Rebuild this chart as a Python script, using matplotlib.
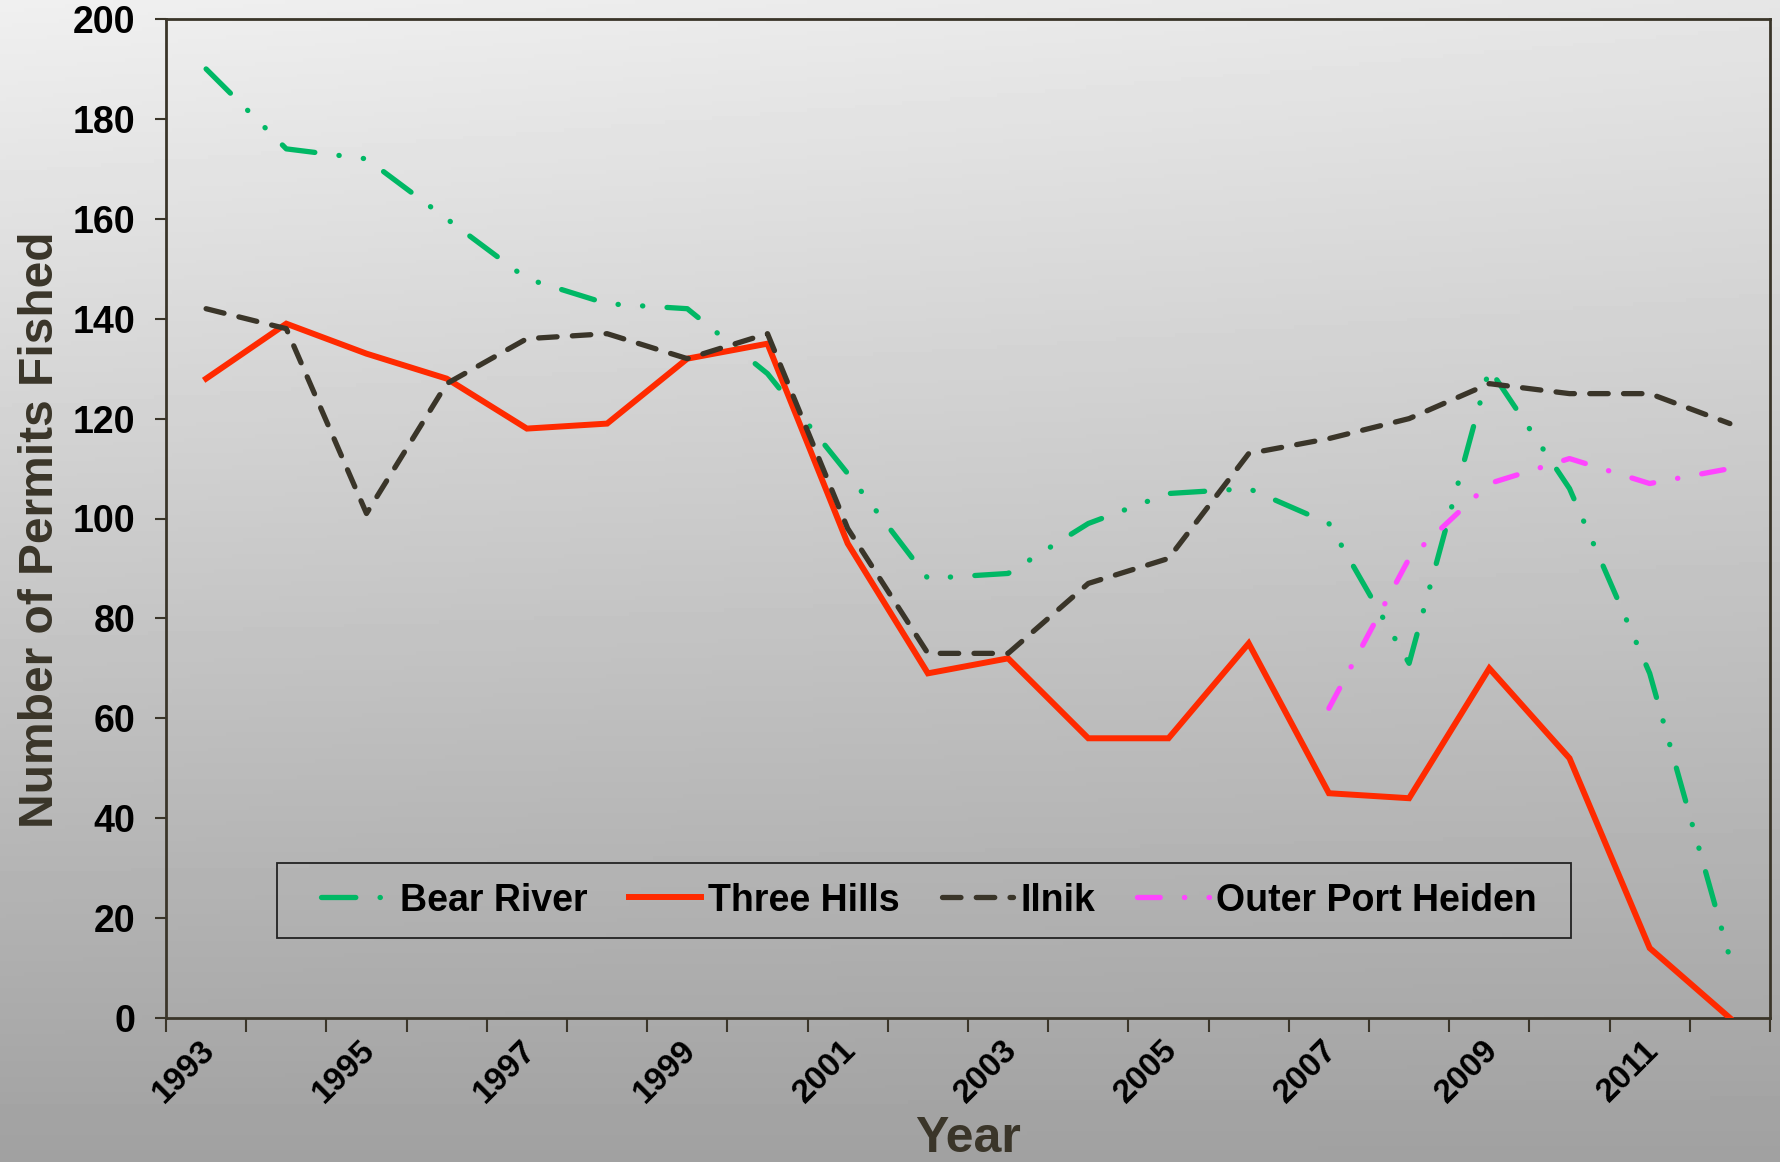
import numpy as np
import matplotlib
matplotlib.use("Agg")
import matplotlib.pyplot as plt
from matplotlib import font_manager
from matplotlib.patches import Rectangle
from matplotlib.transforms import ScaledTranslation

years = list(range(1993, 2013))
bear_river = [190, 174, 172, 160, 148, 143, 142, 129, 109, 88, 89, 99, 105, 106, 99, 71, 130, 106, 69, 12]
three_hills = [128, 139, 133, 128, 118, 119, 132, 135, 95, 69, 72, 56, 56, 75, 45, 44, 70, 52, 14, 0]
ilnik = [142, 138, 101, 127, 136, 137, 132, 137, 98, 73, 73, 87, 92, 113, 116, 120, 127, 125, 125, 119]
outer_port_heiden = [np.nan] * 14 + [62, 92, 107, 112, 107, 110]
series_names = ["Bear River", "Three Hills", "Ilnik", "Outer Port Heiden"]

names = {f.name for f in font_manager.fontManager.ttflist}
base = "Liberation Sans" if "Liberation Sans" in names else "DejaVu Sans"
plt.rcParams["font.family"] = [base, "DejaVu Sans"]

W, H = 1781, 1162
fig = plt.figure(figsize=(W / 100, H / 100), dpi=100)

# gradient background
bg = fig.add_axes([0, 0, 1, 1], zorder=0)
yy, xx = np.mgrid[0:1:300j, 0:1:300j]
grad = 0.94 - 0.31 * yy - 0.04 * xx * (1 - yy)
bg.imshow(grad, cmap="gray", vmin=0, vmax=1, aspect="auto", extent=[0, 1, 0, 1], origin="upper")
bg.set_axis_off()

left, right, top, bottom = 166, 1770, 19, 1018
ax = fig.add_axes([left / W, (H - bottom) / H, (right - left) / W, (bottom - top) / H], zorder=1)
ax.set_facecolor("none")

x = np.arange(len(years))
lw = 3.8
l1, = ax.plot(x, bear_river, color="#00b865", lw=lw, dash_capstyle="round", solid_capstyle="round",
              zorder=3)
l1.set_dashes([6.5, 4.6, 0.05, 4.6, 0.05, 4.6])
l2, = ax.plot(x, three_hills, color="#ff2a00", lw=4.3, solid_joinstyle="miter", zorder=4)
l3, = ax.plot(x, ilnik, color="#3a3529", lw=lw, dash_capstyle="round", zorder=5)
l3.set_dashes([3.5, 2.9])
l4, = ax.plot(x, outer_port_heiden, color="#ff44ff", lw=lw, dash_capstyle="round", zorder=6)
l4.set_dashes([4.3, 4.6, 0.05, 4.6])

ax.set_xlim(-0.5, len(years) - 0.5)
ax.set_ylim(0, 200)
ax.set_yticks(np.arange(0, 201, 20))
ax.tick_params(axis="y", labelsize=27, length=8, width=1.5, color="#3a3529", pad=14)
for t in ax.get_yticklabels():
    t.set_fontweight("bold")

ax.set_xticks(np.arange(-0.5, len(years), 1.0))
ax.set_xticklabels([])
ax.tick_params(axis="x", which="major", length=10, width=1.5, color="#3a3529")
ax.set_xticks(x[::2], minor=True)
ax.set_xticklabels([str(y) for y in years[::2]], minor=True, rotation=45, ha="right", va="top",
                   fontsize=24, fontweight="bold")
ax.tick_params(axis="x", which="minor", length=0, pad=12)
for t in ax.get_xticklabels(minor=True):
    t.set_transform(t.get_transform() + ScaledTranslation(0.15, 0, fig.dpi_scale_trans))

for s in ax.spines.values():
    s.set_color("#3a3529")
    s.set_linewidth(2)

ax.set_ylabel("Number of Permits Fished", fontsize=34.5, fontweight="bold", color="#3a3529")
ax.yaxis.set_label_coords(-0.064, 0.489)
ax.set_xlabel("Year", fontsize=36, fontweight="bold", color="#3a3529")
ax.xaxis.set_label_coords(0.5, -0.098)

# legend frame and entries
ax.add_patch(Rectangle((0.0692, 0.0801), 0.8067, 0.0751, transform=ax.transAxes, fill=False,
                       edgecolor="#222222", lw=1.3, zorder=2))
leg = ax.legend([l1, l2, l3, l4], series_names, ncol=4, loc="center",
                bbox_to_anchor=(0.4757, 0.1176),
                prop={"family": base, "weight": "bold", "size": 27},
                frameon=False, handlelength=1.9, handletextpad=0.2,
                columnspacing=1.12, borderaxespad=0, borderpad=0)

fig.savefig("out.png", dpi=100)
